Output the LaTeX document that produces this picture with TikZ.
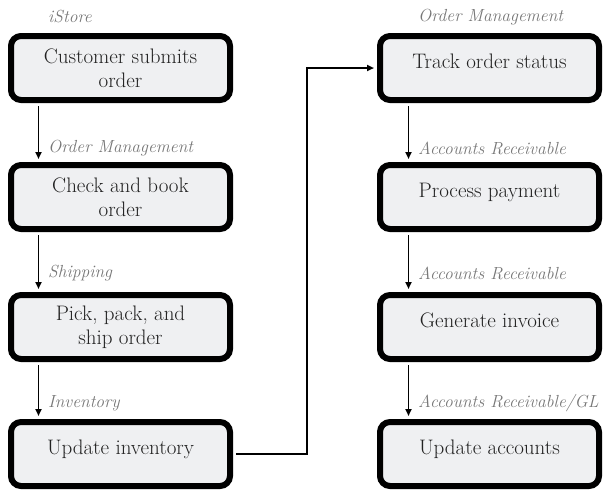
\documentclass[tikz,border=0pt]{standalone}
\usepackage{fontspec}
\setmainfont{Latin Modern Roman}
\usetikzlibrary{arrows.meta}
\definecolor{boxfill}{HTML}{EFF0F2}
\definecolor{lblgray}{HTML}{777777}
\definecolor{ink}{HTML}{222222}
\begin{document}
\begin{tikzpicture}[x=1pt,y=-1pt,
  task/.style={draw=black, line width=6pt, rounded corners=10pt, fill=boxfill,
    minimum width=219pt, minimum height=64pt, align=center, text=ink,
    font=\fontsize{21}{24}\selectfont, inner sep=0pt},
  oneline/.style={text depth=14pt},
  lane/.style={anchor=west, text=lblgray, font=\fontsize{17.5}{20}\selectfont\itshape, inner sep=0pt},
  flow/.style={line width=1.8pt, -{Triangle[length=7pt,width=6pt]}, shorten >=3pt, shorten <=3pt},
  link/.style={line width=1.8pt, -{Triangle[length=7pt,width=6pt]}, shorten >=3pt}]
\useasboundingbox (0,0) rectangle (610,491);

% left column
\node[task] (b1) at (120.5,68) {Customer submits\\order};
\node[task] (b2) at (120.5,197) {Check and book\\order};
\node[task] (b3) at (120.5,327) {Pick, pack, and\\ship order};
\node[task,oneline] (b4) at (120.5,454) {Update inventory};

% right column
\node[task,oneline] (r1) at (489.5,68) {Track order status};
\node[task,oneline] (r2) at (489.5,197) {Process payment};
\node[task,oneline] (r3) at (489.5,327) {Generate invoice};
\node[task,oneline] (r4) at (489.5,454) {Update accounts};

% system labels
\node[lane] (l0) at (48,17) {iStore};
\node[lane] (l1) at (48,148) {Order Management};
\node[lane] (l2) at (48,273) {Shipping};
\node[lane] (l3) at (48,403) {Inventory};
\node[lane] (m0) at (418,17) {Order Management};
\node[lane] (m1) at (418,148) {Accounts Receivable};
\node[lane] (m2) at (418,273) {Accounts Receivable};
\node[lane] (m3) at (418,403) {Accounts Receivable/GL};

% vertical flows
\draw[flow] ([xshift=-82pt]b1.south) -- ([xshift=-82pt]b2.north);
\draw[flow] ([xshift=-82pt]b2.south) -- ([xshift=-82pt]b3.north);
\draw[flow] ([xshift=-82pt]b3.south) -- ([xshift=-82pt]b4.north);
\draw[flow] ([xshift=-81pt]r1.south) -- ([xshift=-81pt]r2.north);
\draw[flow] ([xshift=-81pt]r2.south) -- ([xshift=-81pt]r3.north);
\draw[flow] ([xshift=-81pt]r3.south) -- ([xshift=-81pt]r4.north);

% link between columns
\coordinate (turn) at (307,0);
\draw[link] ([xshift=3pt]b4.east) -- (b4.east -| turn) |- (r1.west);
\end{tikzpicture}
\end{document}
